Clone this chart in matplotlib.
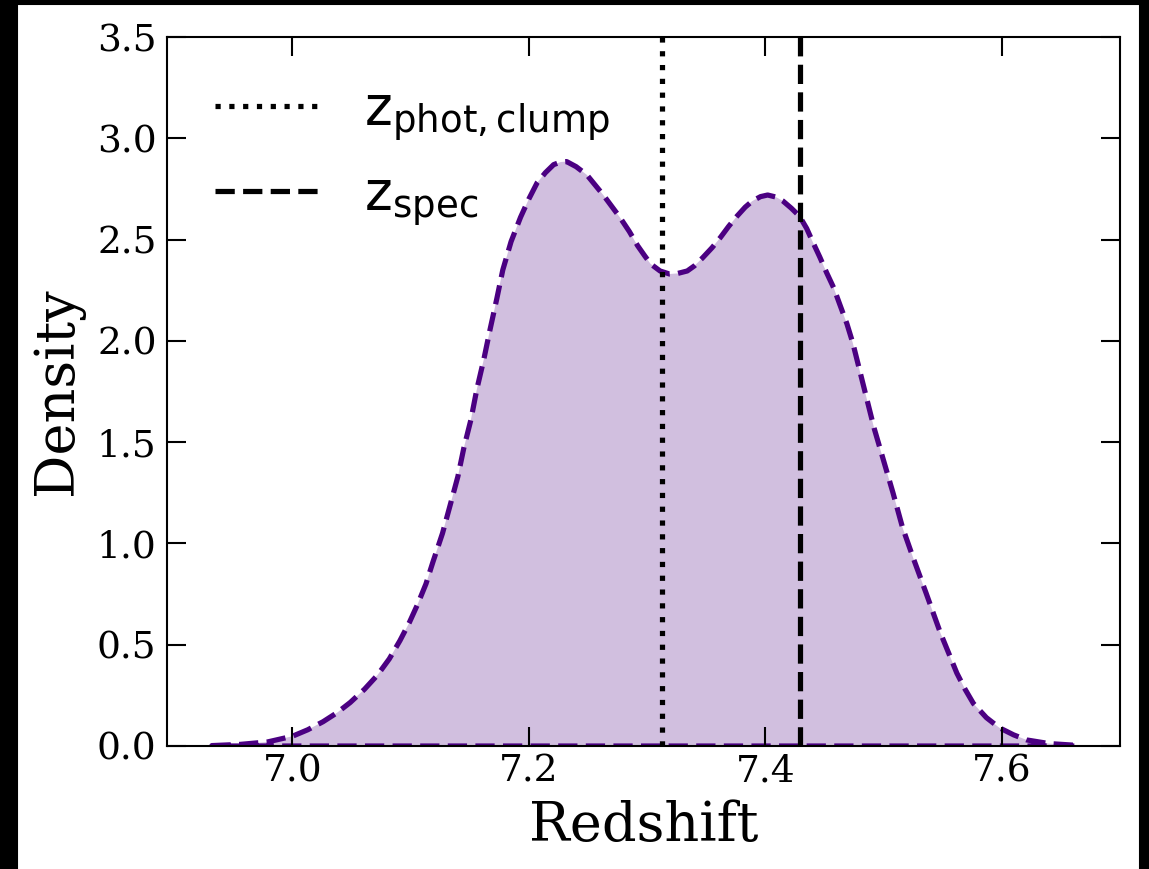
import matplotlib
matplotlib.use("Agg")
import matplotlib.pyplot as plt  # type: ignore
from matplotlib.patches import Rectangle  # type: ignore

# --- DATA ---
redshift = [6.932, 6.956, 6.979, 7.000, 7.013, 7.026, 7.038, 7.049, 7.061, 7.072,
            7.082, 7.091, 7.099, 7.106, 7.113, 7.119, 7.127, 7.134, 7.140, 7.145,
            7.151, 7.156, 7.162, 7.167, 7.173, 7.178, 7.185, 7.193, 7.200, 7.207,
            7.214, 7.221, 7.227, 7.232, 7.240, 7.249, 7.256, 7.263, 7.270, 7.277,
            7.285, 7.292, 7.298, 7.303, 7.311, 7.319, 7.326, 7.334, 7.340, 7.347,
            7.355, 7.362, 7.369, 7.376, 7.383, 7.389, 7.396, 7.402, 7.409, 7.415,
            7.422, 7.429, 7.435, 7.440, 7.446, 7.452, 7.458, 7.463, 7.469, 7.474,
            7.480, 7.486, 7.492, 7.499, 7.508, 7.516, 7.525, 7.536, 7.548, 7.555,
            7.562, 7.569, 7.576, 7.587, 7.598, 7.610, 7.621, 7.640, 7.664]
density = [0.002, 0.008, 0.020, 0.048, 0.080, 0.120, 0.165, 0.215, 0.280, 0.350,
           0.430, 0.520, 0.610, 0.700, 0.800, 0.910, 1.050, 1.200, 1.330, 1.470,
           1.610, 1.760, 1.910, 2.050, 2.210, 2.350, 2.490, 2.610, 2.700, 2.780,
           2.830, 2.870, 2.883, 2.885, 2.860, 2.820, 2.770, 2.720, 2.665, 2.610,
           2.540, 2.470, 2.420, 2.380, 2.345, 2.330, 2.333, 2.345, 2.370, 2.410,
           2.460, 2.510, 2.565, 2.615, 2.660, 2.690, 2.712, 2.720, 2.710, 2.690,
           2.655, 2.615, 2.555, 2.490, 2.415, 2.335, 2.260, 2.180, 2.085, 1.990,
           1.850, 1.710, 1.570, 1.430, 1.250, 1.080, 0.930, 0.755, 0.560, 0.460,
           0.360, 0.280, 0.210, 0.140, 0.090, 0.055, 0.030, 0.012, 0.003]

z_phot_clump = 7.313
z_spec = 7.429

x_ticks = [7.0, 7.2, 7.4, 7.6]
y_ticks = [0.0, 0.5, 1.0, 1.5, 2.0, 2.5, 3.0, 3.5]

plt.rcParams['font.family'] = 'serif'
plt.rcParams['font.serif'] = ['DejaVu Serif']

fig = plt.figure(figsize=(1149 / 150, 869 / 150), dpi=150)
ax = fig.add_axes([167 / 1149, 1 - 746 / 869, (1120 - 167) / 1149, (746 - 37) / 869])

# KDE outline + fill (dashed edge, like seaborn fill=True)
ax.fill_between(redshift, density, facecolor=(75 / 255, 0, 130 / 255, 0.25),
                edgecolor='indigo', linestyle='--', linewidth=2.5)

ax.axvline(z_phot_clump, color='black', linestyle=':', linewidth=2.5,
           label=r'$\mathrm{z_{phot, clump}}$')
ax.axvline(z_spec, color='black', linestyle='--', linewidth=2.5,
           label=r'$\mathrm{z_{spec}}$')

ax.set_xlim(6.894, 7.700)
ax.set_ylim(0, 3.5)
ax.set_xticks(x_ticks)
ax.set_yticks(y_ticks)
ax.set_xticklabels([f'{t:.1f}' for t in x_ticks])
ax.set_yticklabels([f'{t:.1f}' for t in y_ticks])

ax.tick_params(direction='in', top=True, right=True, length=9, width=1.0,
               labelsize=18)
ax.tick_params(axis='y', pad=5)
for sp in ax.spines.values():
    sp.set_linewidth(1.0)

ax.set_xlabel('Redshift', fontsize=26, labelpad=5)
ax.set_ylabel('Density', fontsize=26, labelpad=6)

ax.legend(loc='upper left', frameon=False, fontsize=25.5)

# dark border strips seen round the saved picture
fig.add_artist(Rectangle((0, 0), 17 / 1149, 1, transform=fig.transFigure,
                         color='black', zorder=10))
fig.add_artist(Rectangle((0, 1 - 4 / 869), 1, 4 / 869, transform=fig.transFigure,
                         color='black', zorder=10))
fig.add_artist(Rectangle((1140 / 1149, 0), 9 / 1149, 1, transform=fig.transFigure,
                         color='black', zorder=10))

fig.savefig('out.png', dpi=150)
